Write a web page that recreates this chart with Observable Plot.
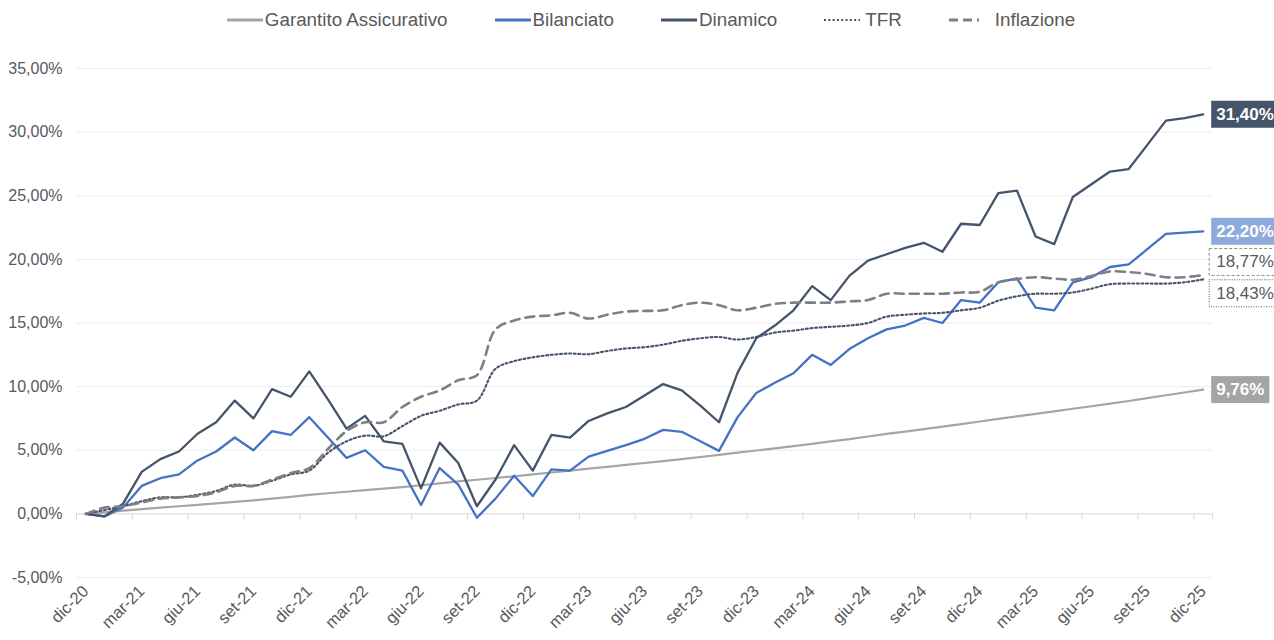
<!DOCTYPE html>
<html>
<head>
<meta charset="utf-8">
<script src="https://cdn.jsdelivr.net/npm/d3@7"></script>
<script src="https://cdn.jsdelivr.net/npm/@observablehq/plot@0.6"></script>
<style>
  body { margin: 0; background: #fff; font-family: "Liberation Sans", Arial, sans-serif; }
  #legend { width: 1274px; height: 40px; box-sizing: border-box; padding-left: 28px;
            display: flex; justify-content: center; align-items: center; gap: 47px;
            font-size: 18.8px; color: #595959; }
  .item { display: flex; align-items: center; gap: 2px; white-space: nowrap; }
  .item svg { display: block; }
</style>
</head>
<body>
<div id="legend"></div>
<div id="chart"></div>
<script>
// ---- categories (monthly) ----
const months = [
  "dic-20",
  "gen-21","feb-21","mar-21","apr-21","mag-21","giu-21","lug-21","ago-21","set-21","ott-21","nov-21","dic-21",
  "gen-22","feb-22","mar-22","apr-22","mag-22","giu-22","lug-22","ago-22","set-22","ott-22","nov-22","dic-22",
  "gen-23","feb-23","mar-23","apr-23","mag-23","giu-23","lug-23","ago-23","set-23","ott-23","nov-23","dic-23",
  "gen-24","feb-24","mar-24","apr-24","mag-24","giu-24","lug-24","ago-24","set-24","ott-24","nov-24","dic-24",
  "gen-25","feb-25","mar-25","apr-25","mag-25","giu-25","lug-25","ago-25","set-25","ott-25","nov-25","dic-25"
];
const xTickIndex = [0,3,6,9,12,15,18,21,24,27,30,33,36,39,42,45,48,51,54,57,60];
const yTicks = [-5,0,5,10,15,20,25,30,35];

// ---- series values (% cumulative) ----
const garantito = [0,0.12,0.25,0.37,0.49,0.60,0.71,0.82,0.95,1.06,1.20,1.33,1.50,1.62,1.74,1.86,1.98,2.10,2.25,2.40,
  2.55,2.68,2.82,2.95,3.10,3.25,3.40,3.55,3.70,3.85,4.00,4.15,4.30,4.47,4.64,4.82,4.98,5.15,5.32,5.50,
  5.70,5.88,6.08,6.28,6.47,6.66,6.86,7.06,7.26,7.46,7.66,7.86,8.06,8.26,8.46,8.66,8.87,9.09,9.32,9.54,9.76];
const bilanciato = [0,-0.2,0.5,2.2,2.8,3.1,4.2,4.9,6.0,5.0,6.5,6.2,7.6,6.0,4.4,5.0,3.7,3.4,0.7,3.6,
  2.3,-0.3,1.2,3.0,1.4,3.5,3.4,4.5,4.95,5.4,5.9,6.6,6.45,5.7,4.95,7.6,9.5,10.3,11.05,12.5,
  11.7,12.95,13.8,14.5,14.8,15.4,15.0,16.8,16.6,18.2,18.5,16.2,16.0,18.2,18.6,19.4,19.6,20.8,22.0,22.1,22.2];
const dinamico = [0,-0.2,0.8,3.3,4.3,4.9,6.3,7.2,8.9,7.5,9.8,9.2,11.2,9.0,6.7,7.7,5.7,5.5,2.0,5.6,
  4.0,0.6,2.7,5.4,3.4,6.2,6.0,7.3,7.9,8.4,9.3,10.2,9.7,8.5,7.2,11.1,13.8,14.8,16.0,17.9,
  16.8,18.7,19.9,20.4,20.9,21.3,20.6,22.8,22.7,25.2,25.4,21.8,21.2,24.9,25.9,26.9,27.1,29.0,30.9,31.1,31.4];
const tfr = [0,0.3,0.6,1.0,1.3,1.3,1.5,1.8,2.3,2.2,2.6,3.1,3.4,4.8,5.7,6.15,6.1,6.9,7.7,8.1,
  8.6,8.9,11.4,12.0,12.3,12.5,12.6,12.55,12.8,13.0,13.1,13.3,13.6,13.8,13.9,13.7,13.9,14.25,14.4,14.6,
  14.7,14.8,15.0,15.5,15.65,15.75,15.8,16.0,16.2,16.75,17.1,17.3,17.3,17.4,17.7,18.05,18.1,18.1,18.1,18.2,18.43];
const inflazione = [0,0.5,0.6,0.9,1.2,1.3,1.4,1.7,2.2,2.2,2.7,3.2,3.6,5.1,6.5,7.2,7.2,8.4,9.2,9.7,
  10.5,10.9,14.5,15.2,15.5,15.6,15.8,15.35,15.65,15.9,15.95,16.0,16.4,16.6,16.4,16.0,16.2,16.5,16.6,16.6,
  16.6,16.7,16.8,17.3,17.3,17.3,17.3,17.4,17.45,18.2,18.45,18.6,18.5,18.4,18.7,19.05,19.0,18.85,18.6,18.6,18.77];

const seriesNames = ["Garantito Assicurativo","Bilanciato","Dinamico","TFR","Inflazione"];
const seriesValues = [garantito, bilanciato, dinamico, tfr, inflazione];

// ---- styles ----
const styles = [
  {stroke: "#a5a5a5", width: 2.2, dash: null, curve: "linear",
   box: {fill: "#a5a5a5", text: "#ffffff", weight: "bold", dy: 0, border: null}},
  {stroke: "#4472c4", width: 2.3, dash: null, curve: "linear",
   box: {fill: "#8faadc", text: "#ffffff", weight: "bold", dy: 0, border: null}},
  {stroke: "#44546a", width: 2.3, dash: null, curve: "linear",
   box: {fill: "#44546a", text: "#ffffff", weight: "bold", dy: 0, border: null}},
  {stroke: "#44546a", width: 2.1, dash: "2,2.6", curve: "catmull-rom",
   box: {fill: "#ffffff", text: "#595959", weight: "normal", dy: 14, border: "#44546a", borderDash: "1,1.5"}},
  {stroke: "#7f7f7f", width: 2.6, dash: "9,6", curve: "catmull-rom",
   box: {fill: "#ffffff", text: "#595959", weight: "normal", dy: -13, border: "#8c8c8c", borderDash: "3,2"}}
];

const fmt = v => v.toFixed(2).replace(".", ",") + "%";
const last = months.length - 1;
const boundaries = xTickIndex.map(i => i - 0.5).concat([last + 0.5]);

// ---- legend ----
const legend = document.getElementById("legend");
seriesNames.forEach((name, k) => {
  const s = styles[k];
  const item = document.createElement("div");
  item.className = "item";
  const dash = s.dash ? (k === 3 ? 'stroke-dasharray="2,2.3"' : 'stroke-dasharray="9,5"') : "";
  const ml = k === 4 ? 8 : (k === 3 ? 3 : 0);
  item.innerHTML = `<svg width="36" height="10"><line x1="0" x2="${k===4?30:36}" y1="5" y2="5" stroke="${s.stroke}" stroke-width="${k===3?2:3}" ${dash}/></svg><span style="margin-left:${ml}px">${name}</span>`;
  legend.appendChild(item);
});

// ---- marks ----
const marks = [
  Plot.ruleY(yTicks.filter(d => d !== 0), {y: d => d, stroke: "#ececec", strokeWidth: 1}),
  Plot.ruleY([0], {stroke: "#d9d9d9", strokeWidth: 1}),
  Plot.ruleX(boundaries, {x: d => d, y1: 0, y2: 0, insetBottom: -6, stroke: "#d9d9d9"}),
  Plot.axisY(yTicks, {anchor: "left", label: null, tickSize: 0, tickPadding: 14, fontSize: 16,
    tickFormat: d => d.toFixed(2).replace(".", ",") + "%"}),
  Plot.axisX(xTickIndex, {anchor: "bottom", label: null, tickSize: 0, tickPadding: 11, tickRotate: -45, fontSize: 16.5,
    tickFormat: i => months[i]})
];
seriesValues.forEach((vals, k) => {
  const s = styles[k];
  const data = vals.map((v, i) => ({i, v}));
  marks.push(Plot.line(data, {x: "i", y: "v", stroke: s.stroke, strokeWidth: s.width,
    strokeDasharray: s.dash || undefined, curve: s.curve, strokeLinejoin: "round"}));
});
seriesValues.forEach((vals, k) => {
  const s = styles[k];
  marks.push(Plot.text([{i: last, v: vals[last]}], {x: "i", y: "v", text: d => fmt(d.v),
    textAnchor: "start", dx: 13, dy: s.box.dy, fill: s.box.text, fontWeight: s.box.weight, fontSize: 17}));
});

const chart = Plot.plot({
  width: 1274, height: 600,
  marginLeft: 76, marginRight: 62, marginTop: 28, marginBottom: 63,
  x: {domain: [-0.5, last + 0.5], label: null},
  y: {domain: [-5, 35], label: null},
  style: {fontFamily: "'Liberation Sans', Arial, sans-serif", fontSize: "16px", color: "#595959",
          background: "#ffffff", overflow: "visible"},
  marks
});
document.getElementById("chart").appendChild(chart);

// ---- boxes behind end labels ----
const boxByText = {};
seriesValues.forEach((vals, k) => { boxByText[fmt(vals[last])] = styles[k].box; });
chart.querySelectorAll("text").forEach(t => {
  const b = boxByText[t.textContent];
  if (!b) return;
  const bb = t.getBBox();
  const padX = b.border ? 7 : 5, padY = 4;
  const r = document.createElementNS("http://www.w3.org/2000/svg", "rect");
  r.setAttribute("x", bb.x - padX);
  r.setAttribute("y", bb.y - padY);
  r.setAttribute("width", bb.width + 2 * padX);
  r.setAttribute("height", bb.height + 2 * padY);
  r.setAttribute("fill", b.fill);
  if (b.border) {
    r.setAttribute("stroke", b.border);
    r.setAttribute("stroke-width", 1);
    r.setAttribute("stroke-dasharray", b.borderDash);
  }
  const tr = t.getAttribute("transform");
  if (tr) r.setAttribute("transform", tr);
  t.parentNode.insertBefore(r, t);
});
</script>
</body>
</html>
